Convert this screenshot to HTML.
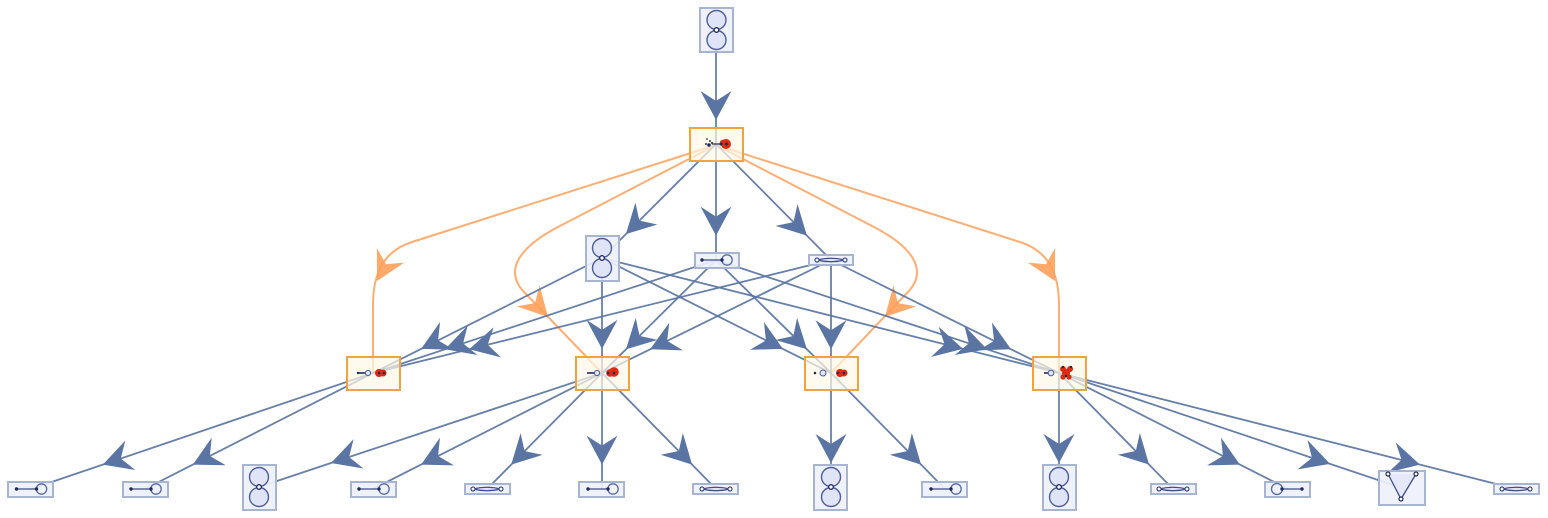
<!DOCTYPE html>
<html><head><meta charset="utf-8"><style>
html,body{margin:0;padding:0;background:#fff;}
svg{display:block;}
</style></head><body>
<svg width="1548" height="518" viewBox="0 0 1548 518" xmlns="http://www.w3.org/2000/svg">
<defs>
<marker id="ab" markerUnits="userSpaceOnUse" markerWidth="34" markerHeight="34" viewBox="-31 -17 33 34" refX="0" refY="0" orient="auto" style="overflow:visible">
<path d="M0,0 L-29,-15.5 L-19,0 L-29,15.5 Z" fill="#5a75a3"/>
</marker>
</defs>

<!-- orange edges -->
<g fill="none" stroke="#ffa05a" stroke-opacity="0.85" stroke-width="2">
<path d="M716,145 L412,242 C382.5,251.4 373,275 373,305 L373,373"/>
<path d="M716,145 L558,227 C518,248 502,272 527,295 L602,373"/>
<path d="M716,145 L874,227 C914,248 930,272 905,295 L831,373"/>
<path d="M716,145 L1020,242 C1049.5,251.4 1059,275 1059,305 L1059,373"/>
</g>
<g fill="#ffa05a" fill-opacity="0.9">
<path transform="translate(377,281) rotate(118)" d="M0,0 L-29,-15.5 L-19,0 L-29,15.5 Z"/>
<path transform="translate(548,317) rotate(47)" d="M0,0 L-29,-15.5 L-19,0 L-29,15.5 Z"/>
<path transform="translate(885,317) rotate(133)" d="M0,0 L-29,-15.5 L-19,0 L-29,15.5 Z"/>
<path transform="translate(1055,281) rotate(62)" d="M0,0 L-29,-15.5 L-19,0 L-29,15.5 Z"/>
</g>

<!-- blue edges -->
<g fill="none" stroke="#5a75a3" stroke-opacity="0.92" stroke-width="1.8" marker-mid="url(#ab)">
<path d="M716,30 L716,120 L716,144"/>
<path d="M716,144 L625.9,234.1 L602,258"/>
<path d="M716,144 L716,235.6 L716,260"/>
<path d="M716,144 L806.9,235.6 L831,260"/>
<path d="M602,258 L421.1,348.9 L373,373"/>
<path d="M602,258 L602,348.9 L602,373"/>
<path d="M602,258 L782.9,348.9 L831,373"/>
<path d="M602,258 L963,348.9 L1059,373"/>
<path d="M716,260 L445,349.3 L373,373"/>
<path d="M716,260 L626,349.3 L602,373"/>
<path d="M716,260 L806.9,349.3 L831,373"/>
<path d="M716,260 L987,349.3 L1059,373"/>
<path d="M831,260 L469.2,349.3 L373,373"/>
<path d="M831,260 L650.1,349.3 L602,373"/>
<path d="M831,260 L831,349.3 L831,373"/>
<path d="M831,260 L1011.1,349.3 L1059,373"/>
<path d="M373,373 L102.8,464.6 L31,489"/>
<path d="M373,373 L192.9,464.6 L145,489"/>
<path d="M602,373 L331,463 L259,487"/>
<path d="M602,373 L421.1,464.6 L373,489"/>
<path d="M602,373 L511.2,464.6 L487,489"/>
<path d="M602,373 L602,464.6 L602,489"/>
<path d="M602,373 L692.1,464.6 L716,489"/>
<path d="M831,373 L831,463 L831,487"/>
<path d="M831,373 L921.1,464.6 L945,489"/>
<path d="M1059,373 L1059,463 L1059,487"/>
<path d="M1059,373 L1149.1,464.6 L1173,489"/>
<path d="M1059,373 L1239.9,464.6 L1288,489"/>
<path d="M1059,373 L1330,463.9 L1402,488"/>
<path d="M1059,373 L1420,464.6 L1516,489"/>
</g>

<!-- orange nodes -->
<g fill="#fff8e6" fill-opacity="0.7" stroke="#f2a23e" stroke-width="2">
<rect x="690" y="128" width="53" height="33"/>
<rect x="347" y="357" width="53" height="33"/>
<rect x="576" y="357" width="53" height="33"/>
<rect x="805" y="357" width="53" height="33"/>
<rect x="1033" y="357" width="53" height="33"/>
</g>

<!-- blue boxes -->
<g fill="#eef1fb" fill-opacity="0.9" stroke="#a7b5d1" stroke-width="2">
<rect x="700" y="8" width="33" height="44"/>
<rect x="586" y="236" width="33" height="45"/>
<rect x="695" y="253" width="44" height="15"/>
<rect x="809" y="255" width="44" height="10"/>
<rect x="8" y="482" width="45" height="15"/>
<rect x="123" y="482" width="45" height="15"/>
<rect x="243" y="465" width="33" height="45"/>
<rect x="351" y="482" width="45" height="15"/>
<rect x="465" y="484" width="45" height="10"/>
<rect x="579" y="482" width="45" height="15"/>
<rect x="693" y="484" width="45" height="10"/>
<rect x="814" y="465" width="33" height="45"/>
<rect x="922" y="482" width="45" height="15"/>
<rect x="1043" y="465" width="33" height="45"/>
<rect x="1151" y="484" width="45" height="10"/>
<rect x="1265" y="482" width="45" height="15"/>
<rect x="1379" y="471" width="46" height="34"/>
<rect x="1494" y="484" width="45" height="10"/>
</g>

<!-- figure-8 contents -->
<g fill="#dfe4f7" stroke="#4d5e9a" stroke-width="1.4">
<circle cx="716.5" cy="20" r="9.5"/><circle cx="716.5" cy="40" r="9.5"/>
<circle cx="602" cy="248" r="9.5"/><circle cx="602" cy="268" r="9.5"/>
<circle cx="259" cy="477" r="9.5"/><circle cx="259" cy="497" r="9.5"/>
<circle cx="831" cy="477" r="9.5"/><circle cx="831" cy="497" r="9.5"/>
<circle cx="1059" cy="477" r="9.5"/><circle cx="1059" cy="497" r="9.5"/>
</g>
<g fill="#fff" stroke="#1f2a5c" stroke-width="1.3">
<circle cx="716.5" cy="30" r="2.3"/>
<circle cx="602" cy="258" r="2.3"/>
<circle cx="259" cy="487" r="2.3"/>
<circle cx="831" cy="487" r="2.3"/>
<circle cx="1059" cy="487" r="2.3"/>
</g>

<!-- B-type (line + loop) -->
<g stroke="#3d4d88" stroke-width="1.3">
<g transform="translate(716,260)"><line x1="-14" y1="0" x2="6" y2="0"/><circle cx="11" cy="0" r="5.2" fill="none" stroke="#5a6aa5"/><circle cx="-14" cy="0" r="1.7" fill="#1f2a5c" stroke="none"/><circle cx="6" cy="0" r="1.7" fill="#1f2a5c" stroke="none"/></g>
<g transform="translate(30.5,489)"><line x1="-14" y1="0" x2="6" y2="0"/><circle cx="11" cy="0" r="5.2" fill="none" stroke="#5a6aa5"/><circle cx="-14" cy="0" r="1.7" fill="#1f2a5c" stroke="none"/><circle cx="6" cy="0" r="1.7" fill="#1f2a5c" stroke="none"/></g>
<g transform="translate(145,489)"><line x1="-14" y1="0" x2="6" y2="0"/><circle cx="11" cy="0" r="5.2" fill="none" stroke="#5a6aa5"/><circle cx="-14" cy="0" r="1.7" fill="#1f2a5c" stroke="none"/><circle cx="6" cy="0" r="1.7" fill="#1f2a5c" stroke="none"/></g>
<g transform="translate(373,489)"><line x1="-14" y1="0" x2="6" y2="0"/><circle cx="11" cy="0" r="5.2" fill="none" stroke="#5a6aa5"/><circle cx="-14" cy="0" r="1.7" fill="#1f2a5c" stroke="none"/><circle cx="6" cy="0" r="1.7" fill="#1f2a5c" stroke="none"/></g>
<g transform="translate(602,489)"><line x1="-14" y1="0" x2="6" y2="0"/><circle cx="11" cy="0" r="5.2" fill="none" stroke="#5a6aa5"/><circle cx="-14" cy="0" r="1.7" fill="#1f2a5c" stroke="none"/><circle cx="6" cy="0" r="1.7" fill="#1f2a5c" stroke="none"/></g>
<g transform="translate(945,489)"><line x1="-14" y1="0" x2="6" y2="0"/><circle cx="11" cy="0" r="5.2" fill="none" stroke="#5a6aa5"/><circle cx="-14" cy="0" r="1.7" fill="#1f2a5c" stroke="none"/><circle cx="6" cy="0" r="1.7" fill="#1f2a5c" stroke="none"/></g>
<g transform="translate(1288,489)"><line x1="-6" y1="0" x2="14" y2="0"/><circle cx="-11" cy="0" r="5.5" fill="none" stroke="#5a6aa5"/><circle cx="14" cy="0" r="1.7" fill="#1f2a5c" stroke="none"/><circle cx="-6" cy="0" r="1.7" fill="#1f2a5c" stroke="none"/></g>
</g>

<!-- C-type (double edge) -->
<g stroke="#3d4d88" stroke-width="1.2">
<g transform="translate(831,260)"><path d="M-14,0 Q0,-3.5 14,0 Q0,3.5 -14,0Z" fill="#dfe4f7"/><circle cx="-14" cy="0" r="2" fill="#fff"/><circle cx="14" cy="0" r="2" fill="#fff"/></g>
<g transform="translate(487,489)"><path d="M-14,0 Q0,-3.5 14,0 Q0,3.5 -14,0Z" fill="#dfe4f7"/><circle cx="-14" cy="0" r="2" fill="#fff"/><circle cx="14" cy="0" r="2" fill="#fff"/></g>
<g transform="translate(716,489)"><path d="M-14,0 Q0,-3.5 14,0 Q0,3.5 -14,0Z" fill="#dfe4f7"/><circle cx="-14" cy="0" r="2" fill="#fff"/><circle cx="14" cy="0" r="2" fill="#fff"/></g>
<g transform="translate(1173,489)"><path d="M-14,0 Q0,-3.5 14,0 Q0,3.5 -14,0Z" fill="#dfe4f7"/><circle cx="-14" cy="0" r="2" fill="#fff"/><circle cx="14" cy="0" r="2" fill="#fff"/></g>
<g transform="translate(1516,489)"><path d="M-14,0 Q0,-3.5 14,0 Q0,3.5 -14,0Z" fill="#dfe4f7"/><circle cx="-14" cy="0" r="2" fill="#fff"/><circle cx="14" cy="0" r="2" fill="#fff"/></g>
</g>

<!-- triangle node -->
<polygon points="1388,474 1416,474 1401,499" fill="#dfe4f7" opacity="0.7"/>
<g stroke="#3d4d88" stroke-width="1.3" fill="none">
<line x1="1388" y1="474" x2="1401" y2="499"/>
<line x1="1416" y1="474" x2="1401" y2="499"/>
</g>
<g fill="#fff" stroke="#1f2a5c" stroke-width="1.2">
<circle cx="1388" cy="474" r="2"/><circle cx="1416" cy="474" r="2"/><circle cx="1401" cy="499" r="2"/>
</g>

<!-- orange node contents -->
<g>
<circle cx="707" cy="139" r="0.9" fill="#333"/><circle cx="710" cy="141" r="1" fill="#333"/><circle cx="706" cy="144" r="1" fill="#333"/>
<circle cx="709" cy="145" r="1.8" fill="#1f2a5c"/><circle cx="712" cy="143" r="1.2" fill="#555"/>
<line x1="712" y1="144" x2="721" y2="144" stroke="#1f2a5c" stroke-width="1.2"/>
<circle cx="726" cy="144" r="5" fill="#dd2a10"/><circle cx="723" cy="143" r="3.2" fill="#dd2a10"/>
<circle cx="721" cy="144" r="1.5" fill="#1f2a5c"/><circle cx="726.5" cy="144" r="1.5" fill="#1f2a5c"/>
</g>
<g>
<line x1="358" y1="373" x2="367" y2="373" stroke="#1f2a5c" stroke-width="1.6"/>
<circle cx="358" cy="373" r="1.2" fill="#1f2a5c"/>
<circle cx="368" cy="373" r="2.6" fill="#dfe4f7" stroke="#4d5e9a" stroke-width="1"/>
<circle cx="379" cy="373" r="4" fill="#dd2a10"/><circle cx="383" cy="373" r="3.5" fill="#dd2a10"/>
<circle cx="379" cy="373" r="1.3" fill="#1f2a5c"/><circle cx="384" cy="373" r="1.3" fill="#1f2a5c"/>
</g>
<g>
<line x1="587" y1="373" x2="597" y2="373" stroke="#1f2a5c" stroke-width="1.6"/>
<circle cx="597" cy="373" r="2.6" fill="#dfe4f7" stroke="#4d5e9a" stroke-width="1"/>
<circle cx="610" cy="373" r="3.8" fill="#dd2a10"/><circle cx="614" cy="372" r="4.8" fill="#dd2a10"/>
<circle cx="608" cy="373" r="1.3" fill="#1f2a5c"/><circle cx="614" cy="373" r="1.3" fill="#1f2a5c"/>
</g>
<g>
<circle cx="815" cy="373" r="1.3" fill="#1f2a5c"/>
<circle cx="823" cy="373" r="3" fill="#dfe4f7" stroke="#4d5e9a" stroke-width="1"/>
<circle cx="840" cy="373" r="4" fill="#dd2a10"/><circle cx="844" cy="373" r="3.5" fill="#dd2a10"/>
<circle cx="838" cy="373" r="1.3" fill="#1f2a5c"/><circle cx="844" cy="373" r="1.3" fill="#1f2a5c"/>
</g>
<g>
<line x1="1044" y1="373" x2="1052" y2="373" stroke="#1f2a5c" stroke-width="1.6"/>
<circle cx="1051" cy="373" r="2.8" fill="#dfe4f7" stroke="#4d5e9a" stroke-width="1"/>
<circle cx="1063" cy="369" r="3" fill="#dd2a10"/><circle cx="1070" cy="369" r="3" fill="#dd2a10"/>
<circle cx="1066" cy="373" r="4" fill="#dd2a10"/><circle cx="1063" cy="377" r="2.6" fill="#dd2a10"/><circle cx="1069" cy="377" r="2.6" fill="#dd2a10"/>
<circle cx="1063" cy="367" r="1.2" fill="#1f2a5c"/><circle cx="1071" cy="367" r="1.2" fill="#1f2a5c"/><circle cx="1066" cy="376" r="1.2" fill="#1f2a5c"/>
</g>
</svg>
</body></html>
